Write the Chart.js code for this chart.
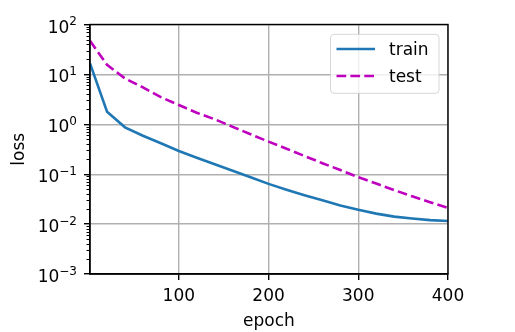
<!DOCTYPE html>
<html>
<head>
<meta charset="utf-8">
<script src="https://cdn.jsdelivr.net/npm/chart.js@4"></script>
<style>
  html, body { margin: 0; padding: 0; background: #fff; }
  canvas { display: block; }
</style>
</head>
<body>
<canvas id="lossChart" width="515" height="332"></canvas>
<script>
// values
const epochs    = [1, 20, 40, 60, 80, 100, 120, 140, 160, 180, 200, 220, 240, 260, 280, 300, 320, 340, 360, 380, 400];
const trainLoss = [16.6, 1.79, 0.87, 0.59, 0.417, 0.292, 0.214, 0.158, 0.117, 0.087, 0.064, 0.049, 0.038, 0.030, 0.0236, 0.0193, 0.0162, 0.0141, 0.0129, 0.0120, 0.0115];
const testLoss  = [47, 15.5, 8.3, 5.5, 3.5, 2.43, 1.7, 1.26, 0.89, 0.63, 0.45, 0.324, 0.232, 0.166, 0.121, 0.087, 0.065, 0.048, 0.036, 0.0275, 0.021];
const seriesNames = ['train', 'test'];
const xTicks    = [100, 200, 300, 400];
const yExps     = [-3, -2, -1, 0, 1, 2];
const xTitle = 'epoch';
const yTitle = 'loss';

const FONT = '"DejaVu Sans", sans-serif';

const toPoints = vals => epochs.map((e, i) => ({ x: e, y: vals[i] }));
const supText = n => (n < 0 ? '\u2212' : '') + Math.abs(n);

const decorations = {
  id: 'decorations',
  afterDatasetsDraw(chart) {
    const { ctx, chartArea: a, scales: { x, y } } = chart;
    ctx.save();

    // minor ticks on the log axis
    ctx.strokeStyle = '#000';
    ctx.lineWidth = 1;
    ctx.beginPath();
    for (let k = yExps[0]; k < yExps[yExps.length - 1]; k++) {
      for (let m = 2; m <= 9; m++) {
        const py = Math.round(y.getPixelForValue(m * Math.pow(10, k))) + 0.5;
        ctx.moveTo(a.left - 3.5, py);
        ctx.lineTo(a.left, py);
      }
    }
    ctx.stroke();

    // frame
    ctx.lineWidth = 1.4;
    ctx.strokeRect(a.left, a.top, a.right - a.left, a.bottom - a.top);

    // y tick labels 10^k
    ctx.fillStyle = '#000';
    ctx.textBaseline = 'alphabetic';
    ctx.textAlign = 'left';
    const right = a.left - 13;
    yExps.forEach(k => {
      const py = y.getPixelForValue(Math.pow(10, k));
      ctx.font = '12px ' + FONT;
      const sup = supText(k);
      const w2 = ctx.measureText(sup).width;
      ctx.font = '17px ' + FONT;
      const w1 = ctx.measureText('10').width;
      ctx.fillText('10', right - w2 - w1, py + 8);
      ctx.font = '12px ' + FONT;
      ctx.fillText(sup, right - w2, py + 0.7);
    });

    // x tick labels
    ctx.font = '17px ' + FONT;
    ctx.textAlign = 'center';
    xTicks.forEach(v => ctx.fillText(String(v), x.getPixelForValue(v), a.bottom + 27));

    // axis titles
    ctx.fillText(xTitle, (a.left + a.right) / 2, 326);
    ctx.translate(24, (a.top + a.bottom) / 2);
    ctx.rotate(-Math.PI / 2);
    ctx.fillText(yTitle, 0, 0);
    ctx.restore();

    // legend
    ctx.save();
    const bx = a.right - 117.5, by = a.top + 9.8, bw = 108.5, bh = 59;
    ctx.beginPath();
    ctx.roundRect(bx, by, bw, bh, 3.5);
    ctx.fillStyle = 'rgba(255,255,255,0.8)';
    ctx.fill();
    ctx.strokeStyle = 'rgba(204,204,204,0.8)';
    ctx.lineWidth = 1;
    ctx.stroke();
    chart.data.datasets.forEach((ds, i) => {
      const ly = by + 14.7 + i * 27;
      ctx.beginPath();
      ctx.strokeStyle = ds.borderColor;
      ctx.lineWidth = ds.borderWidth;
      ctx.setLineDash(ds.borderDash || []);
      ctx.moveTo(bx + 6, ly);
      ctx.lineTo(bx + 44.5, ly);
      ctx.stroke();
      ctx.setLineDash([]);
      ctx.fillStyle = '#000';
      ctx.font = '17px ' + FONT;
      ctx.textAlign = 'left';
      ctx.fillText(ds.label, bx + 58.5, ly + 6);
    });
    ctx.restore();
  }
};

new Chart(document.getElementById('lossChart').getContext('2d'), {
  type: 'line',
  data: {
    datasets: [{
      label: seriesNames[0],
      data: toPoints(trainLoss),
      borderColor: '#1f77b4',
      borderWidth: 2.6,
      pointRadius: 0,
      tension: 0,
      fill: false
    }, {
      label: seriesNames[1],
      data: toPoints(testLoss),
      borderColor: '#bf00bf',
      borderWidth: 2.6,
      borderDash: [9.7, 4.2],
      pointRadius: 0,
      tension: 0,
      fill: false
    }]
  },
  options: {
    responsive: false,
    animation: false,
    devicePixelRatio: 1,
    layout: { padding: { left: 0, top: 24.5, right: 67, bottom: 0 } },
    plugins: { legend: { display: false }, tooltip: { enabled: false } },
    scales: {
      x: {
        type: 'linear',
        min: 1, max: 400,
        afterBuildTicks: s => { s.ticks = xTicks.map(v => ({ value: v })); },
        afterFit: s => { s.height = 58; },
        ticks: { display: false },
        grid: { color: '#b0b0b0', lineWidth: 1.4, drawTicks: true, tickLength: 6, tickColor: '#000', tickWidth: 1.4 },
        border: { display: true, color: '#000', width: 1.4 }
      },
      y: {
        type: 'logarithmic',
        min: 1e-3, max: 1e2,
        afterBuildTicks: s => { s.ticks = yExps.map(k => ({ value: Math.pow(10, k) })); },
        afterFit: s => { s.width = 90; },
        ticks: { display: false },
        grid: { color: '#b0b0b0', lineWidth: 1.4, drawTicks: true, tickLength: 6, tickColor: '#000', tickWidth: 1.4 },
        border: { display: true, color: '#000', width: 1.4 }
      }
    }
  },
  plugins: [decorations]
});
</script>
</body>
</html>
